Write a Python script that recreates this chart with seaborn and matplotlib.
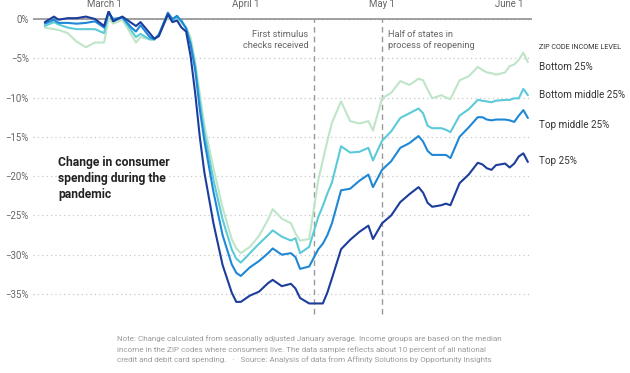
import numpy as np
import pandas as pd
import matplotlib
matplotlib.use("Agg")
import matplotlib.pyplot as plt
from matplotlib import font_manager
from matplotlib.ticker import FuncFormatter
import seaborn as sns

# values, % change vs January
dates = ["2020-02-17", "2020-02-19", "2020-02-20", "2020-02-22", "2020-02-24", "2020-02-26", "2020-02-28",
         "2020-03-01", "2020-03-02", "2020-03-03", "2020-03-05", "2020-03-07", "2020-03-08", "2020-03-09",
         "2020-03-11", "2020-03-12", "2020-03-13", "2020-03-15", "2020-03-16", "2020-03-17", "2020-03-18",
         "2020-03-19", "2020-03-20",
         "2020-03-21", "2020-03-22", "2020-03-23", "2020-03-25", "2020-03-27", "2020-03-29", "2020-03-30",
         "2020-03-31",
         "2020-04-02", "2020-04-04", "2020-04-06", "2020-04-07", "2020-04-09", "2020-04-11", "2020-04-12",
         "2020-04-13", "2020-04-15",
         "2020-04-17", "2020-04-18", "2020-04-19", "2020-04-20", "2020-04-22", "2020-04-24", "2020-04-26",
         "2020-04-28", "2020-04-29",
         "2020-05-01", "2020-05-03", "2020-05-05", "2020-05-07", "2020-05-09", "2020-05-10", "2020-05-11",
         "2020-05-12",
         "2020-05-14", "2020-05-15", "2020-05-16", "2020-05-18", "2020-05-20", "2020-05-22", "2020-05-23",
         "2020-05-24", "2020-05-25", "2020-05-26",
         "2020-05-28", "2020-05-29", "2020-05-30", "2020-05-31", "2020-06-01", "2020-06-02"]

bottom_25 = [-1.1, -1.3, -1.4, -1.8, -2.9, -3.6, -3.0,
             -3.0, 0.0, -0.6, -0.1, -2.0, -3.0, -2.3,
             -2.6, -2.6, -2.0, 0.3, -0.4, 0.0, -0.5, -1.0, -2.4,
             -5.5, -9.5, -13.5, -19.0, -24.0, -28.0, -29.2, -29.8,
             -29.0, -27.6, -25.5, -24.2, -25.4, -26.0, -27.3, -28.2, -28.0,
             -20.5, -18.0, -15.5, -13.2, -10.5, -13.0, -13.3, -13.0, -14.2,
             -10.1, -9.4, -7.9, -8.4, -7.6, -7.8, -9.0, -10.1,
             -9.7, -10.0, -10.2, -7.8, -7.3, -6.1, -6.5, -6.8, -6.9, -7.1,
             -6.8, -6.0, -5.8, -5.2, -4.3, -5.5]

bottom_middle_25 = [-0.9, -0.4, -0.7, -1.1, -1.3, -1.3, -1.3,
                    -1.8, 0.8, -0.3, 0.2, -1.5, -2.3, -1.9,
                    -2.6, -2.6, -2.1, 0.6, -0.2, 0.2, -0.2, -1.2, -3.0,
                    -6.0, -10.5, -14.5, -20.5, -25.5, -29.3, -30.5, -31.0,
                    -29.8, -28.6, -27.5, -26.9, -27.7, -28.2, -27.9, -29.8, -29.0,
                    -25.2, -23.8, -22.2, -20.8, -16.2, -17.0, -16.9, -16.4, -18.0,
                    -15.5, -14.3, -12.6, -12.0, -11.4, -12.0, -13.6, -13.9,
                    -13.9, -14.1, -14.4, -12.3, -11.5, -10.3, -10.4, -10.5, -10.6, -10.4,
                    -10.3, -10.3, -10.1, -10.1, -8.9, -9.7]

top_middle_25 = [-0.6, -0.1, -0.5, -0.5, -0.6, -0.5, -0.3,
                 -1.1, 0.8, 0.0, 0.2, -1.1, -1.6, -0.8,
                 -2.3, -2.6, -2.0, 0.8, 0.0, 0.4, -0.3, -1.2, -3.3,
                 -6.5, -11.5, -15.5, -22.0, -27.5, -31.2, -32.3, -32.7,
                 -31.6, -30.8, -29.8, -29.2, -30.0, -29.8, -30.3, -31.8, -31.5,
                 -29.3, -28.6, -27.5, -26.0, -21.8, -21.6, -20.6, -19.8, -21.4,
                 -19.2, -18.1, -16.4, -15.8, -14.9, -15.6, -16.8, -17.3,
                 -17.3, -17.3, -17.7, -15.0, -13.8, -12.5, -12.5, -12.8, -12.9, -12.8,
                 -12.8, -12.9, -13.1, -12.3, -11.6, -12.6]

top_25 = [-0.4, 0.3, -0.1, 0.1, 0.1, 0.3, 0.0,
          -0.9, 1.0, -0.3, 0.3, -0.5, -0.9, -0.4,
          -1.8, -2.5, -2.2, 0.6, -0.4, -0.2, -1.1, -1.6, -4.8,
          -9.5, -15.0, -19.5, -26.0, -31.3, -34.8, -36.0, -36.0,
          -35.2, -34.7, -33.6, -33.2, -34.0, -33.7, -34.3, -35.5, -36.2,
          -36.2, -36.2, -34.8, -33.0, -29.3, -28.1, -27.1, -26.3, -28.0,
          -26.0, -25.0, -23.3, -22.3, -21.4, -22.1, -23.4, -23.9,
          -23.7, -23.5, -23.7, -20.9, -19.8, -18.3, -18.5, -19.0, -19.2, -18.6,
          -18.4, -18.9, -18.4, -17.5, -17.1, -18.2]

groups = ["Bottom 25%", "Bottom middle 25%", "Top middle 25%", "Top 25%"]
colors = ["#bfe5c9", "#5ccad8", "#1f88d6", "#1c3d9c"]
label_y = [-6.1, -9.7, -13.5, -18.1]

month_ticks = ["2020-03-01", "2020-04-01", "2020-05-01", "2020-06-01"]
month_labels = ["March 1", "April 1", "May 1", "June 1"]
y_ticks = [0, -5, -10, -15, -20, -25, -30, -35]

events = ["2020-04-16", "2020-05-01"]
event_labels = ["First stimulus\nchecks received", "Half of states in\nprocess of reopening"]

note = ("Note: Change calculated from seasonally adjusted January average. Income groups are based on the median\n"
        "income in the ZIP codes where consumers live. The data sample reflects about 10 percent of all national\n"
        "credit and debit card spending.   \u00b7   Source: Analysis of data from Affinity Solutions by Opportunity Insights")


def main():
    sns.set_style("white")
    names = {f.name for f in font_manager.fontManager.ttflist}
    fam = "Liberation Sans Narrow" if "Liberation Sans Narrow" in names else "Roboto"
    plt.rcParams["font.family"] = [fam, "DejaVu Sans"]

    df = pd.DataFrame({"date": pd.to_datetime(dates), "Bottom 25%": bottom_25,
                       "Bottom middle 25%": bottom_middle_25,
                       "Top middle 25%": top_middle_25, "Top 25%": top_25})
    long = df.melt(id_vars="date", var_name="group", value_name="change")

    fig = plt.figure(figsize=(6.3, 3.73), dpi=100)
    ax = fig.add_axes([33 / 630, 1 - 317.6 / 373, 499 / 630, (317.6 - 11.1) / 373])

    ax.grid(axis="y", color="#c8c8c8", linestyle=(0, (1, 2.5)), linewidth=0.9)
    ax.axhline(0, color="#888888", linewidth=1.1, zorder=1)
    for ev, txt in zip(events, event_labels):
        d = pd.Timestamp(ev)
        ax.vlines(d, -37.6, 0, colors="#999999", linestyles=(0, (4, 3)), linewidth=1, zorder=1)
        left = txt.startswith("First")
        ax.annotate(txt, xy=(d, -1.4), xytext=(-4 if left else 4, 0), textcoords="offset points",
                    ha="right" if left else "left", va="top", fontsize=6.7, color="#666666",
                    linespacing=1.3)

    sns.lineplot(data=long, x="date", y="change", hue="group", hue_order=groups,
                 palette=colors, linewidth=1.5, legend=False, ax=ax, zorder=3)

    x0 = pd.Timestamp("2020-03-01")
    ax.set_xlim(x0 - pd.Timedelta(days=15.6), x0 + pd.Timedelta(days=93.9))
    ax.set_ylim(-38, 1)
    ax.set_xticks(pd.to_datetime(month_ticks))
    ax.set_xticklabels(month_labels)
    ax.xaxis.tick_top()
    ax.get_xticklabels()[-1].set_ha("right")
    ax.set_yticks(y_ticks)
    ax.yaxis.set_major_formatter(FuncFormatter(lambda v, p: f"{v:.0f}%".replace("-", "\u2212")))
    ax.tick_params(axis="both", length=0, labelsize=6.9, colors="#666666")
    ax.tick_params(axis="x", pad=1.5)
    ax.tick_params(axis="y", pad=3)
    ax.set_xlabel("")
    ax.set_ylabel("")
    for s in ax.spines.values():
        s.set_visible(False)

    fig.text(539 / 630, 1 - 47.5 / 373, "ZIP CODE INCOME LEVEL", fontsize=5.2, color="#333333", va="center")
    for g, yv in zip(groups, label_y):
        ax.annotate(g, xy=(1, yv), xycoords=("axes fraction", "data"), xytext=(5, 0),
                    textcoords="offset points", va="center", fontsize=7.1, color="#333333")

    fig.text(58 / 630, 1 - 156 / 373, "Change in consumer\nspending during the\npandemic",
             fontsize=8.7, fontweight="bold", color="#222222", va="top", linespacing=1.3)
    fig.text(117 / 630, 1 - 335 / 373, note, fontsize=5.75, color="#9a9a9a", va="top", linespacing=1.7)

    fig.savefig("out.png", dpi=100)


if __name__ == "__main__":
    main()
